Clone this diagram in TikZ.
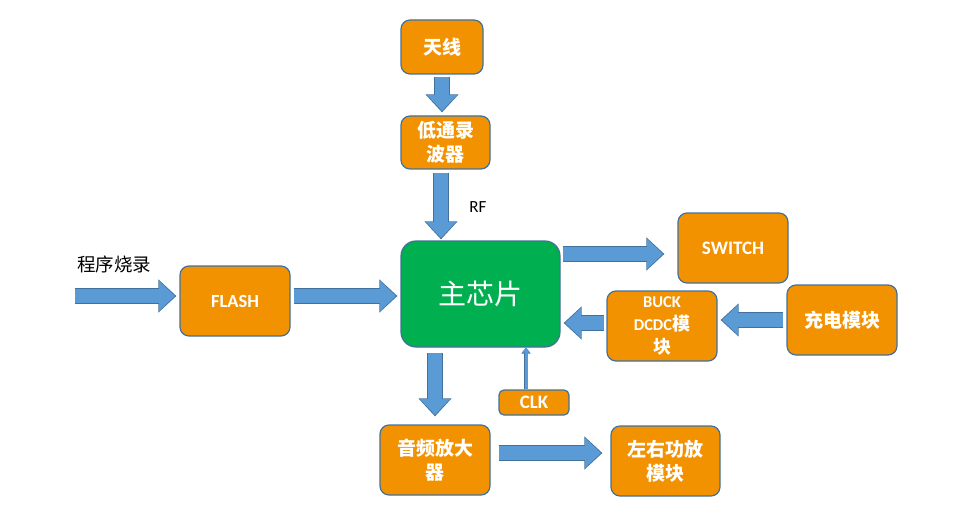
\documentclass[tikz,border=0pt]{standalone}
\usepackage{fontspec}
\setmainfont{Carlito}
\newfontfamily\cjk{Noto Sans CJK SC}
\usetikzlibrary{arrows.meta,calc}
\definecolor{boxfill}{HTML}{F39200}
\definecolor{boxline}{HTML}{41719C}
\definecolor{chipfill}{HTML}{00B050}
\definecolor{arrfill}{HTML}{5B9BD5}
\tikzset{
  blk/.style={rounded corners=9pt, fill=boxfill, draw=boxline, line width=1.2pt,
    text=white, align=center, font=\bfseries\fontsize{18.5}{23}\selectfont, inner sep=2pt},
  cjkbox/.style={blk, font=\cjk\bfseries\fontsize{19}{24}\selectfont},
  chipbox/.style={rounded corners=15pt, fill=chipfill, draw=boxline, line width=1.2pt,
    text=white, font=\cjk\fontsize{28}{32}\selectfont},
  bigarrow/.style={draw=arrfill, line width=14pt, shorten >=1.4pt,
    -{Triangle[width=29pt,length=16pt]},
    preaction={draw=boxline, line width=16pt, shorten >=0pt,
      -{Triangle[width=32pt,length=18pt]}}},
  thinarrow/.style={draw=arrfill, line width=3pt, -{Triangle[width=8pt,length=5pt]},
    preaction={draw=boxline, line width=4pt, -{Triangle[width=9pt,length=6pt]}}},
}
\begin{document}
\begin{tikzpicture}[x=1pt,y=-1pt]
\useasboundingbox (0,0) rectangle (955,513);
% nodes
\node[cjkbox, minimum width=82pt, minimum height=54pt] (ant) at (442,47) {天线};
\node[cjkbox, minimum width=89pt, minimum height=53pt] (lpf) at (445.5,142.5) {低通录\\波器};
\node[chipbox, minimum width=159pt, minimum height=106pt] (chip) at (480.5,294) {主芯片};
\node[blk, minimum width=110pt, minimum height=70pt] (flash) at (235,301) {FLASH};
\node[blk, minimum width=110pt, minimum height=70pt, font=\bfseries\fontsize{19}{23}\selectfont] (sw) at (733,248) {SWITCH};
\node[blk, minimum width=110pt, minimum height=70pt, font=\bfseries\fontsize{16.5}{23}\selectfont] (buck) at (662,326) {BUCK\\DCDC{\cjk\bfseries\fontsize{18}{23}\selectfont 模}\\{\cjk\bfseries\fontsize{18}{23}\selectfont 块}};
\node[cjkbox, minimum width=110pt, minimum height=70pt] (chg) at (842,320) {充电模块};
\node[blk, rounded corners=5pt, minimum width=70pt, minimum height=25pt, inner sep=0pt, font=\bfseries\fontsize{19}{20}\selectfont] (clk) at (534,402.5) {CLK};
\node[cjkbox, minimum width=110pt, minimum height=70pt] (amp) at (435,460) {音频放大\\器};
\node[cjkbox, minimum width=109pt, minimum height=70pt] (spk) at (665.5,461) {左右功放\\模块};
\node[font=\cjk\fontsize{18.5}{20}\selectfont] (prog) at (114,264) {程序烧录};
\node[font=\fontsize{17}{19}\selectfont] (rf) at (478,207) {RF};
\coordinate (in) at (75,296);
\coordinate (yflash) at (0,296);
\coordinate (ysw) at (0,254);
\coordinate (ybuck) at (0,323);
\coordinate (ychg) at (0,320);
\coordinate (yamp) at (0,453);
\coordinate (xlpf) at (441,0);
\coordinate (xamp) at (435,0);
\coordinate (xclk) at (526,0);
% arrows
\draw[bigarrow] ([yshift=-2pt]ant.south) -- ([yshift=3pt]ant.south |- lpf.north);
\draw[bigarrow] ([yshift=-3pt]xlpf |- lpf.south) -- ([yshift=1pt]xlpf |- chip.north);
\draw[bigarrow] (in) -- ([xshift=-3pt]flash.west |- in);
\draw[bigarrow] ([xshift=3pt]flash.east |- yflash) -- ([xshift=-3pt]chip.west |- yflash);
\draw[bigarrow] ([xshift=2pt]chip.east |- ysw) -- ([xshift=-13pt]sw.west |- ysw);
\draw[bigarrow] ([xshift=-3pt]chg.west |- ychg) -- ([xshift=3pt]buck.east |- ychg);
\draw[bigarrow] ([xshift=-2pt]buck.west |- ybuck) -- ([xshift=3pt]chip.east |- ybuck);
\draw[thinarrow] (xclk |- clk.north) -- (xclk |- chip.south);
\draw[bigarrow] ([yshift=-5pt]xamp |- chip.south) -- ([yshift=8pt]xamp |- amp.north);
\draw[bigarrow] ([xshift=8pt]amp.east |- yamp) -- ([xshift=-8pt]spk.west |- yamp);
\end{tikzpicture}
\end{document}
